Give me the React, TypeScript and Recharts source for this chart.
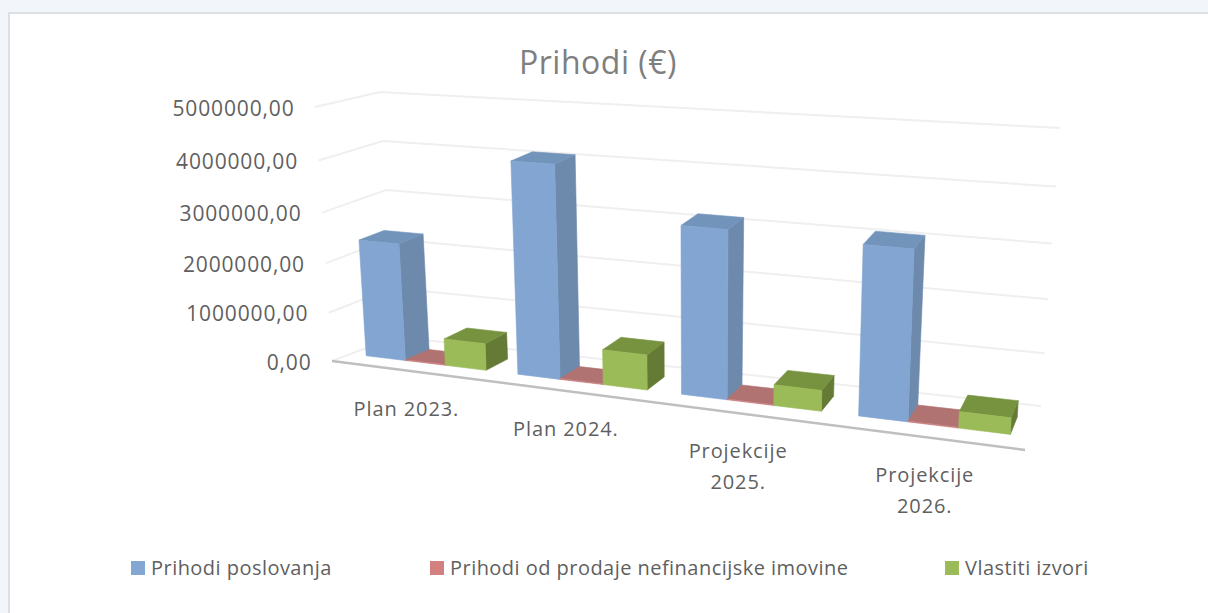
import React from 'react';
import { BarChart, Bar, XAxis, YAxis, CartesianGrid, Legend } from 'recharts';

const categories = ['Plan 2023.', 'Plan 2024.', 'Projekcije 2025.', 'Projekcije 2026.'];
const poslovanja = [2350000, 4140000, 3210000, 3160000];
const nefinancijska = [15000, 15000, 15000, 15000];
const vlastiti = [540000, 690000, 400000, 310000];
const yTicks = [0, 1000000, 2000000, 3000000, 4000000, 5000000];

const data = categories.map((name, i) => ({
  name,
  poslovanja: poslovanja[i],
  nefinancijska: nefinancijska[i],
  vlastiti: vlastiti[i],
}));

const W = 1208;
const H = 613;
const PLOT = { left: 332, right: 1025, top: 107, bottom: 361 };
const FONT = '"Open Sans", sans-serif';
const TEXT = '#5f5f5f';

// corners of the 3D box on screen: F/B front/back, L/R left/right, b/t bottom/top
const FLb = [332, 361];
const FLt = [315, 107];
const BLb = [395, 337];
const BLt = [380, 92];
const BRb = [1041, 406];
const BRt = [1060, 128];
const FRb = [1025, 450];
const FRt = [1039, 160];
const PERSPECTIVE = 1.17;
const HEIGHT_PERSPECTIVE = 0.068;

const mix = (a: number[], b: number[], t: number) => [a[0] + (b[0] - a[0]) * t, a[1] + (b[1] - a[1]) * t];

// u along the categories, v up the value axis, d into the depth, all 0..1
const project = (u: number, v: number, d: number) => {
  const s = u / (u + PERSPECTIVE * (1 - u));
  const q = 1 + HEIGHT_PERSPECTIVE * (1 - (1 - s) * d);
  const h = v / (v + q * (1 - v));
  const bottom = mix(mix(FLb, FRb, s), mix(BLb, BRb, s), d);
  const top = mix(mix(FLt, FRt, s), mix(BLt, BRt, s), d);
  return mix(bottom, top, h);
};

const plotU = (x: number) => (x - PLOT.left) / (PLOT.right - PLOT.left);
const plotV = (y: number) => (PLOT.bottom - y) / (PLOT.bottom - PLOT.top);
const pts = (list: number[][]) => list.map((p) => `${p[0].toFixed(1)},${p[1].toFixed(1)}`).join(' ');

const makeShape = (front: string, top: string, side: string) => (props: any) => {
  const { x, y, width, height } = props;
  const u0 = plotU(x);
  const u1 = plotU(x + width);
  const v1 = plotV(y);
  const v0 = plotV(y + height);
  const d0 = 0.3;
  const d1 = 0.7;
  return (
    <g strokeWidth={0.6} strokeLinejoin="round">
      <polygon points={pts([project(u1, v0, d0), project(u1, v0, d1), project(u1, v1, d1), project(u1, v1, d0)])} fill={side} stroke={side} />
      <polygon points={pts([project(u0, v1, d0), project(u1, v1, d0), project(u1, v1, d1), project(u0, v1, d1)])} fill={top} stroke={top} />
      <polygon points={pts([project(u0, v0, d0), project(u1, v0, d0), project(u1, v1, d0), project(u0, v1, d0)])} fill={front} stroke={front} />
    </g>
  );
};

const gridLine = (props: any) => {
  const v = plotV(props.y1);
  const line = [project(0, v, 0), project(0, v, 1), project(1, v, 1)];
  return (
    <g key={props.key}>
      <polyline points={pts(line)} fill="none" stroke="#efefef" strokeWidth={2} />
      {Math.abs(v) < 0.001 && (
        <line x1={FLb[0]} y1={FLb[1]} x2={FRb[0]} y2={FRb[1]} stroke="#bfbfbf" strokeWidth={2.5} />
      )}
    </g>
  );
};

const YTick = (props: any) => {
  const p = project(0, plotV(props.y), 0);
  return (
    <text x={p[0] - 20.5} y={p[1] + 0.5} textAnchor="end" dominantBaseline="central" fontFamily={FONT} fontSize={21} letterSpacing={0.85} fill={TEXT}>
      {props.payload.value.toFixed(2).replace('.', ',')}
    </text>
  );
};

const XTick = (props: any) => {
  const p = project(plotU(props.x), 0, 0);
  const words = props.payload.value.startsWith('Plan') ? [props.payload.value] : props.payload.value.split(' ');
  return (
    <text textAnchor="middle" fontFamily={FONT} fontSize={20} letterSpacing={0.9} fill={TEXT}>
      {words.map((w: string, i: number) => (
        <tspan key={w} x={p[0] - 1} y={p[1] + 45 + i * 31}>{w}</tspan>
      ))}
    </text>
  );
};

const legendX = [131, 430, 945];

const renderLegend = (props: any) => (
  <div style={{ position: 'relative', height: 26 }}>
    {props.payload.map((item: any, i: number) => (
      <div key={item.value} style={{ position: 'absolute', left: legendX[i], top: 0, display: 'flex', alignItems: 'center', whiteSpace: 'nowrap' }}>
        <span style={{ width: 14, height: 14, background: item.color, marginRight: 6 }} />
        <span style={{ fontFamily: FONT, fontSize: 20, letterSpacing: 0.46, color: TEXT }}>{item.value}</span>
      </div>
    ))}
  </div>
);

export default function App() {
  return (
    <div style={{ position: 'absolute', left: 0, top: 0, width: W, height: H, background: '#f2f5fa', overflow: 'hidden' }}>
      <div style={{ position: 'absolute', left: 8, top: 12, width: W, height: H, background: '#fff', border: '2px solid #dcdfe3', boxSizing: 'border-box' }} />
      <div style={{ position: 'absolute', left: 0, top: 39, width: 1196, textAlign: 'center', fontFamily: FONT, fontSize: 32, letterSpacing: 0.5, lineHeight: '46px', color: '#7f7f7f' }}>
        Prihodi (€)
      </div>
      <div style={{ position: 'absolute', left: 0, top: 0 }}>
        <BarChart
          width={W}
          height={H}
          data={data}
          barGap={0}
          barCategoryGap="10.5%"
          margin={{ left: PLOT.left - 100, right: W - PLOT.right, top: PLOT.top, bottom: H - PLOT.bottom - 40 }}
        >
          <CartesianGrid vertical={false} horizontal={gridLine} />
          <XAxis dataKey="name" height={40} axisLine={false} tickLine={false} tick={XTick} interval={0} />
          <YAxis width={100} domain={[0, 5000000]} ticks={yTicks} axisLine={false} tickLine={false} tick={YTick} interval={0} />
          <Legend verticalAlign="middle" align="center" layout="horizontal" itemSorter={null} content={renderLegend} wrapperStyle={{ left: 0, top: 554, width: W }} />
          <Bar dataKey="poslovanja" name="Prihodi poslovanja" fill="#84a7d1" isAnimationActive={false} shape={makeShape('#82a5d2', '#7293ba', '#6d89ac')} />
          <Bar dataKey="nefinancijska" name="Prihodi od prodaje nefinancijske imovine" fill="#d28080" isAnimationActive={false} shape={makeShape('#c98080', '#b07372', '#9a6160')} />
          <Bar dataKey="vlastiti" name="Vlastiti izvori" fill="#9bbb59" isAnimationActive={false} shape={makeShape('#9bbb59', '#77933f', '#647a35')} />
        </BarChart>
      </div>
    </div>
  );
}
